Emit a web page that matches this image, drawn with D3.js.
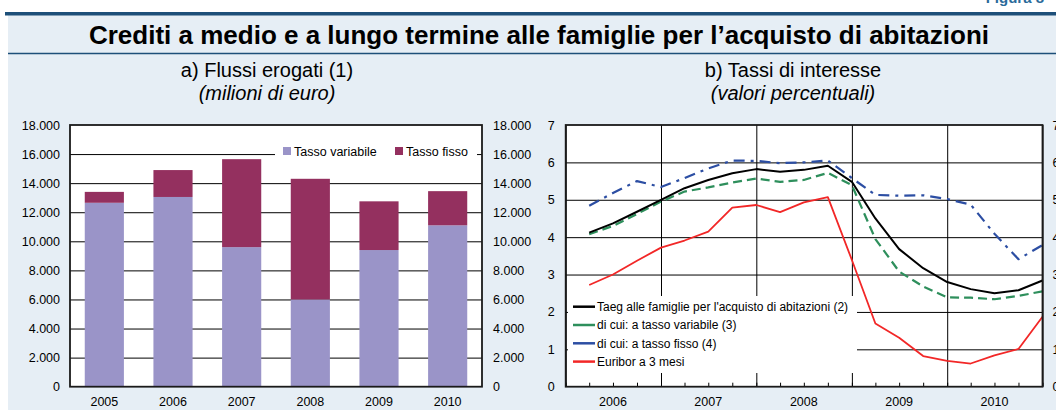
<!DOCTYPE html>
<html>
<head>
<meta charset="utf-8">
<script src="https://cdn.jsdelivr.net/npm/d3@7"></script>
<style>
  body { margin: 0; background: #fff; }
  svg { display: block; font-family: "Liberation Sans", Arial, sans-serif; }
</style>
</head>
<body>
<svg id="chart" width="1056" height="410"></svg>
<script>
// --- data: panel a (milioni di euro)
var years = ["2005", "2006", "2007", "2008", "2009", "2010"];
var tassoVariabile = [12650, 13050, 9600, 6000, 9400, 11100];
var tassoFisso = [750, 1850, 6050, 8300, 3350, 2350];
var barTicks = [0, 2000, 4000, 6000, 8000, 10000, 12000, 14000, 16000, 18000];

// --- data: panel b (valori percentuali), quarterly
var quarters = ["2006Q1", "2006Q2", "2006Q3", "2006Q4", "2007Q1", "2007Q2", "2007Q3", "2007Q4",
                "2008Q1", "2008Q2", "2008Q3", "2008Q4", "2009Q1", "2009Q2", "2009Q3", "2009Q4",
                "2010Q1", "2010Q2", "2010Q3", "2010Q4"];
var taeg = [4.12, 4.37, 4.68, 5.0, 5.31, 5.53, 5.71, 5.82, 5.75, 5.8, 5.91, 5.48, 4.5, 3.68, 3.17, 2.8, 2.61, 2.5, 2.58, 2.84];
var taegVariabile = [4.08, 4.3, 4.62, 4.95, 5.22, 5.33, 5.46, 5.57, 5.48, 5.53, 5.72, 5.39, 3.95, 3.08, 2.68, 2.39, 2.38, 2.34, 2.43, 2.55];
var taegFisso = [4.84, 5.18, 5.5, 5.34, 5.58, 5.84, 6.05, 6.04, 5.98, 6.0, 6.05, 5.58, 5.13, 5.11, 5.12, 5.02, 4.87, 4.09, 3.41, 3.79];
var euribor = [2.72, 3.0, 3.37, 3.72, 3.91, 4.15, 4.79, 4.86, 4.67, 4.93, 5.07, 3.39, 1.69, 1.31, 0.82, 0.69, 0.62, 0.84, 1.01, 1.87];
var rateYears = ["2006", "2007", "2008", "2009", "2010"];
var rateTicks = [0, 1, 2, 3, 4, 5, 6, 7];

var itFormat = d3.formatLocale({ decimal: ",", thousands: ".", grouping: [3], currency: ["", "€"] }).format(",d");

var svg = d3.select("#chart");
var blue = "#1d4f79";
var font = "Liberation Sans, Arial, sans-serif";

// background and header
svg.append("rect").attr("x", 8).attr("y", 15).attr("width", 1048).attr("height", 395).attr("fill", "#e6eef5");
svg.append("rect").attr("x", 5).attr("y", 12).attr("width", 1051).attr("height", 3.5).attr("fill", blue);
svg.append("text").attr("x", 1044).attr("y", 3).attr("text-anchor", "end")
    .attr("font-size", 15).attr("font-weight", "bold").attr("fill", "#2a6a9a").text("Figura 8");
svg.append("text").attr("x", 539).attr("y", 44).attr("text-anchor", "middle")
    .attr("font-size", 26).attr("font-weight", "bold").attr("fill", "#000")
    .text("Crediti a medio e a lungo termine alle famiglie per l’acquisto di abitazioni");
svg.append("line").attr("x1", 8).attr("x2", 1056).attr("y1", 53.5).attr("y2", 53.5)
    .attr("stroke", blue).attr("stroke-width", 1.5);

function subtitle(cx, t1, t2) {
    svg.append("text").attr("x", cx).attr("y", 77).attr("text-anchor", "middle")
        .attr("font-size", 20).text(t1);
    svg.append("text").attr("x", cx).attr("y", 100).attr("text-anchor", "middle")
        .attr("font-size", 20).attr("font-style", "italic").text(t2);
}
subtitle(267, "a) Flussi erogati (1)", "(milioni di euro)");
subtitle(793, "b) Tassi di interesse", "(valori percentuali)");

var plotTop = 125, plotBottom = 386.7;

function styleText(g, size) {
    g.selectAll("text").attr("font-size", size).attr("fill", "#000").attr("font-family", font);
}

// ---------------- panel a: stacked bars
var ax0 = 70, ax1 = 482;
var xb = d3.scaleBand().domain(years).range([ax0, ax1]).paddingInner(0.43).paddingOuter(0.215);
var yb = d3.scaleLinear().domain([0, 18000]).range([plotBottom, plotTop]);

var pa = svg.append("g");
pa.append("rect").attr("x", ax0).attr("y", plotTop).attr("width", ax1 - ax0).attr("height", plotBottom - plotTop).attr("fill", "#fff");

pa.append("g")
    .attr("transform", `translate(${ax0},0)`)
    .call(d3.axisLeft(yb).tickValues(barTicks.slice(1, -1)).tickSize(-(ax1 - ax0)).tickFormat(""))
    .call(g => g.select(".domain").remove())
    .selectAll("line").attr("stroke", "#000").attr("stroke-width", 1);

// legend box hides the 16.000 gridline
pa.append("rect").attr("x", 275).attr("y", 141).attr("width", 202).attr("height", 24).attr("fill", "#fff");

var stackData = years.map((y, i) => ({ year: y, variabile: tassoVariabile[i], fisso: tassoFisso[i] }));
var series = d3.stack().keys(["variabile", "fisso"])(stackData);
var barColor = { variabile: "#9a94c8", fisso: "#94305f" };

pa.append("g")
    .selectAll("g")
    .data(series)
    .join("g")
    .attr("fill", d => barColor[d.key])
    .selectAll("rect")
    .data(d => d)
    .join("rect")
    .attr("x", d => xb(d.data.year))
    .attr("y", d => yb(d[1]))
    .attr("width", xb.bandwidth())
    .attr("height", d => yb(d[0]) - yb(d[1]));

// frame
pa.append("rect").attr("x", ax0).attr("y", plotTop).attr("width", ax1 - ax0).attr("height", plotBottom - plotTop)
    .attr("fill", "none").attr("stroke", "#1a1a1a").attr("stroke-width", 1.8);

pa.append("g")
    .attr("transform", `translate(${ax0 - 7},0)`)
    .call(d3.axisLeft(yb).tickValues(barTicks).tickSize(0).tickFormat(itFormat))
    .call(g => g.select(".domain").remove())
    .call(g => styleText(g, 12.5));
pa.append("g")
    .attr("transform", `translate(${ax1 + 8},0)`)
    .call(d3.axisRight(yb).tickValues(barTicks).tickSize(0).tickFormat(itFormat))
    .call(g => g.select(".domain").remove())
    .call(g => styleText(g, 12.5));
pa.append("g")
    .attr("transform", `translate(0,${plotBottom + 7})`)
    .call(d3.axisBottom(xb).tickSize(0))
    .call(g => g.select(".domain").remove())
    .call(g => styleText(g, 12.5));

// legend a
var legA = [["variabile", "Tasso variabile", 283], ["fisso", "Tasso fisso", 395]];
legA.forEach(l => {
    pa.append("rect").attr("x", l[2]).attr("y", 147).attr("width", 8).attr("height", 8).attr("fill", barColor[l[0]]);
    pa.append("text").attr("x", l[2] + 11).attr("y", 155.5).attr("font-size", 12.5).text(l[1]);
});

// ---------------- panel b: lines
var bx0 = 565.7, bx1 = 1042.5;
var xt = d3.scaleTime().domain([new Date(2006, 0, 1), new Date(2011, 0, 1)]).range([bx0, bx1]);
var yt = d3.scaleLinear().domain([0, 7]).range([plotBottom, plotTop]);
// each quarter is plotted at its end
var qDate = q => new Date(+q.slice(0, 4), 3 * (+q.slice(5)), 1);

var pb = svg.append("g");
pb.append("rect").attr("x", bx0).attr("y", plotTop).attr("width", bx1 - bx0).attr("height", plotBottom - plotTop).attr("fill", "#fff");

pb.append("g")
    .attr("transform", `translate(${bx0},0)`)
    .call(d3.axisLeft(yt).tickValues(rateTicks.slice(1, -1)).tickSize(-(bx1 - bx0)).tickFormat(""))
    .call(g => g.select(".domain").remove())
    .selectAll("line").attr("stroke", "#000");
pb.append("g")
    .attr("transform", `translate(0,${plotBottom})`)
    .call(d3.axisBottom(xt).ticks(d3.timeYear.every(1)).tickSize(-(plotBottom - plotTop)).tickFormat(""))
    .call(g => g.select(".domain").remove())
    .selectAll("line").attr("stroke", "#000");

// legend box b
pb.append("rect").attr("x", 568).attr("y", 296).attr("width", 289).attr("height", 77).attr("fill", "#fff");

pb.append("g")
    .attr("transform", `translate(0,${plotBottom})`)
    .call(d3.axisBottom(xt).ticks(d3.timeMonth.every(3)).tickSize(-4).tickFormat(""))
    .call(g => g.select(".domain").remove())
    .selectAll("line").attr("stroke", "#000");

var rateSeries = [
    { name: "Taeg alle famiglie per l'acquisto di abitazioni (2)", values: taeg, color: "#000", width: 2, dash: null },
    { name: "di cui: a tasso variabile (3)", values: taegVariabile, color: "#2e8f5c", width: 2.2, dash: "9,5" },
    { name: "di cui: a tasso fisso (4)", values: taegFisso, color: "#2c4ea3", width: 2.2, dash: "11,6,3,6" },
    { name: "Euribor a 3 mesi", values: euribor, color: "#f22727", width: 1.8, dash: null }
];

var line = d3.line().x((d, i) => xt(qDate(quarters[i]))).y(d => yt(d));

// draw order: red behind, black on top
[3, 2, 1, 0].forEach(i => {
    var s = rateSeries[i];
    pb.append("path")
        .attr("d", line(s.values))
        .attr("fill", "none")
        .attr("stroke", s.color)
        .attr("stroke-width", s.width)
        .attr("stroke-dasharray", s.dash)
        .attr("stroke-linejoin", "round");
});

pb.append("rect").attr("x", bx0).attr("y", plotTop).attr("width", bx1 - bx0).attr("height", plotBottom - plotTop)
    .attr("fill", "none").attr("stroke", "#1a1a1a").attr("stroke-width", 1.8);

pb.append("g")
    .attr("transform", `translate(${bx0 - 8},0)`)
    .call(d3.axisLeft(yt).tickValues(rateTicks).tickSize(0).tickFormat(d3.format("d")))
    .call(g => g.select(".domain").remove())
    .call(g => styleText(g, 12.5));
pb.append("g")
    .attr("transform", `translate(${bx1 + 7},0)`)
    .call(d3.axisRight(yt).tickValues(rateTicks).tickSize(0).tickFormat(d3.format("d")))
    .call(g => g.select(".domain").remove())
    .call(g => styleText(g, 12.5));

pb.append("g")
    .selectAll("text")
    .data(rateYears)
    .join("text")
    .attr("x", d => xt(new Date(+d, 6, 1)))
    .attr("y", 406)
    .attr("text-anchor", "middle")
    .attr("font-size", 12.5)
    .text(d => d);

// legend b
rateSeries.forEach((s, i) => {
    var yy = 306.7 + i * 18.3;
    pb.append("line").attr("x1", 573).attr("x2", 595).attr("y1", yy).attr("y2", yy)
        .attr("stroke", s.color).attr("stroke-width", 2.5);
    pb.append("text").attr("x", 597).attr("y", yy + 4.3).attr("font-size", 12).text(s.name);
});
</script>
</body>
</html>
